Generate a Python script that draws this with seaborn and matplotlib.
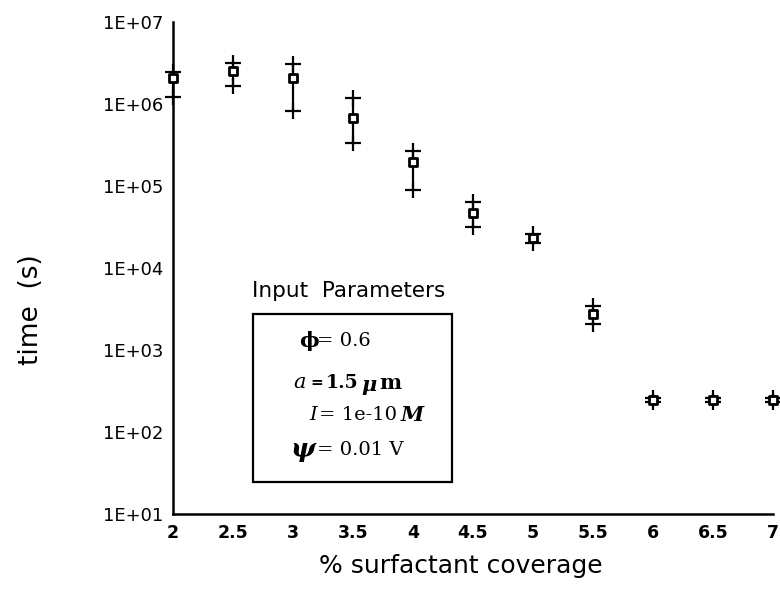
import matplotlib
matplotlib.use("Agg")
import matplotlib.pyplot as plt
import numpy as np
import pandas as pd
import seaborn as sns
from matplotlib.patches import Rectangle

# surfactant coverage (%) and settling time (s) with upper / lower bounds
coverage = [2, 2.5, 3, 3.5, 4, 4.5, 5, 5.5, 6, 6.5, 7]
time_s = [2.07e6, 2.5e6, 2.07e6, 6.7e5, 1.95e5, 4.7e4, 2.3e4, 2.75e3, 245, 245, 245]
time_hi = [2.45e6, 3.15e6, 3.1e6, 1.18e6, 2.65e5, 6.4e4, 2.6e4, 3.45e3, 262, 262, 262]
time_lo = [1.22e6, 1.65e6, 8.2e5, 3.35e5, 8.9e4, 3.15e4, 2.0e4, 2.05e3, 230, 230, 230]

x_ticks = [2, 2.5, 3, 3.5, 4, 4.5, 5, 5.5, 6, 6.5, 7]
x_tick_labels = ["2", "2.5", "3", "3.5", "4", "4.5", "5", "5.5", "6", "6.5", "7"]
y_ticks = [1e1, 1e2, 1e3, 1e4, 1e5, 1e6, 1e7]
y_tick_labels = ["1E+01", "1E+02", "1E+03", "1E+04", "1E+05", "1E+06", "1E+07"]

df = pd.DataFrame({"coverage": coverage, "time": time_s,
                   "hi": time_hi, "lo": time_lo})

sns.set_theme(style="white")
plt.rcParams["font.family"] = ["DejaVu Sans"]
plt.rcParams["text.color"] = "black"

W, H = 780, 599
fig = plt.figure(figsize=(W / 100, H / 100), dpi=100)
ax = fig.add_axes([173 / W, 1 - 514 / H, 600 / W, 492 / H])


def fx(px):
    return px / W


def fy(py):
    return 1 - py / H


ax.set_yscale("log")
ax.set_xlim(2, 7)
ax.set_ylim(1e1, 1e7)

# error bars: vertical stem with "+" caps at both ends
ax.vlines(df["coverage"], df["lo"], df["hi"], colors="black", lw=1.6,
          zorder=3, clip_on=False)
ax.plot(df["coverage"], df["hi"], "+", color="black", ms=11, mew=1.6,
        zorder=3, clip_on=False)
ax.plot(df["coverage"], df["lo"], "+", color="black", ms=11, mew=1.6,
        zorder=3, clip_on=False)

sns.scatterplot(data=df, x="coverage", y="time", marker="s", s=36,
                color="white", edgecolor="black", linewidth=2.0,
                zorder=4, clip_on=False, ax=ax)

ax.set_xticks(x_ticks)
ax.set_xticklabels(x_tick_labels, fontsize=12.5, fontweight="bold")
ax.set_yticks(y_ticks)
ax.set_yticklabels(y_tick_labels, fontsize=13)
ax.minorticks_off()
ax.tick_params(axis="both", length=0, colors="black")
ax.tick_params(axis="y", pad=7)
ax.tick_params(axis="x", pad=7)

for side in ("top", "right"):
    ax.spines[side].set_visible(False)
for side in ("left", "bottom"):
    ax.spines[side].set_color("black")
    ax.spines[side].set_linewidth(1.8)

ax.set_xlabel("% surfactant coverage", fontsize=18, color="black")
ax.set_ylabel("time  (s)", fontsize=19, color="black")
ax.xaxis.set_label_coords((461 - 173) / 600, (514 - 554) / 492)
ax.yaxis.set_label_coords((44 - 173) / 600, (514 - 310) / 492)

# parameter panel
fig.text(fx(349), fy(291), "Input  Parameters", fontsize=15.5,
         ha="center", va="center", color="black")
fig.patches.append(Rectangle((fx(253), fy(482)), fx(452) - fx(253),
                             fy(314) - fy(482), transform=fig.transFigure,
                             fill=False, edgecolor="black", lw=1.6))

serif = "DejaVu Serif"
ink = "black"
# phi line
fig.text(fx(299), fy(341), "ϕ", family=serif, fontweight="bold",
         fontsize=15, ha="left", va="center", color=ink)
fig.text(fx(317), fy(341), "= 0.6", family=serif, fontsize=14,
         ha="left", va="center", color=ink)
# particle radius line
fig.text(fx(293), fy(383), "a", family=serif, style="italic",
         fontsize=15, ha="left", va="center", color=ink)
fig.text(fx(310), fy(383), "=", family=serif, fontweight="bold",
         fontsize=11, ha="left", va="center", color=ink)
fig.text(fx(326), fy(383), "1.5", family=serif, fontweight="bold",
         fontsize=13.5, ha="left", va="center", color=ink)
fig.text(fx(361), fy(385), "μ", family=serif, fontweight="bold",
         style="italic", fontsize=15, ha="left", va="center", color=ink)
fig.text(fx(379), fy(383), "m", family=serif, fontweight="bold",
         fontsize=15, ha="left", va="center", color=ink)
# ionic strength line
fig.text(fx(309), fy(415), "I", family=serif, style="italic",
         fontsize=14, ha="left", va="center", color=ink)
fig.text(fx(319), fy(415), "= 1e-10", family=serif, fontsize=14,
         ha="left", va="center", color=ink)
fig.text(fx(401), fy(415), "M", family=serif, style="italic",
         fontweight="bold", fontsize=15, ha="left", va="center", color=ink)
# surface potential line
fig.text(fx(290), fy(450), "ψ", family=serif, style="italic",
         fontweight="bold", fontsize=19, ha="left", va="center", color=ink)
fig.text(fx(317), fy(450), "= 0.01 V", family=serif, fontsize=14,
         ha="left", va="center", color=ink)

fig.savefig("out.png", dpi=100, facecolor="white")
